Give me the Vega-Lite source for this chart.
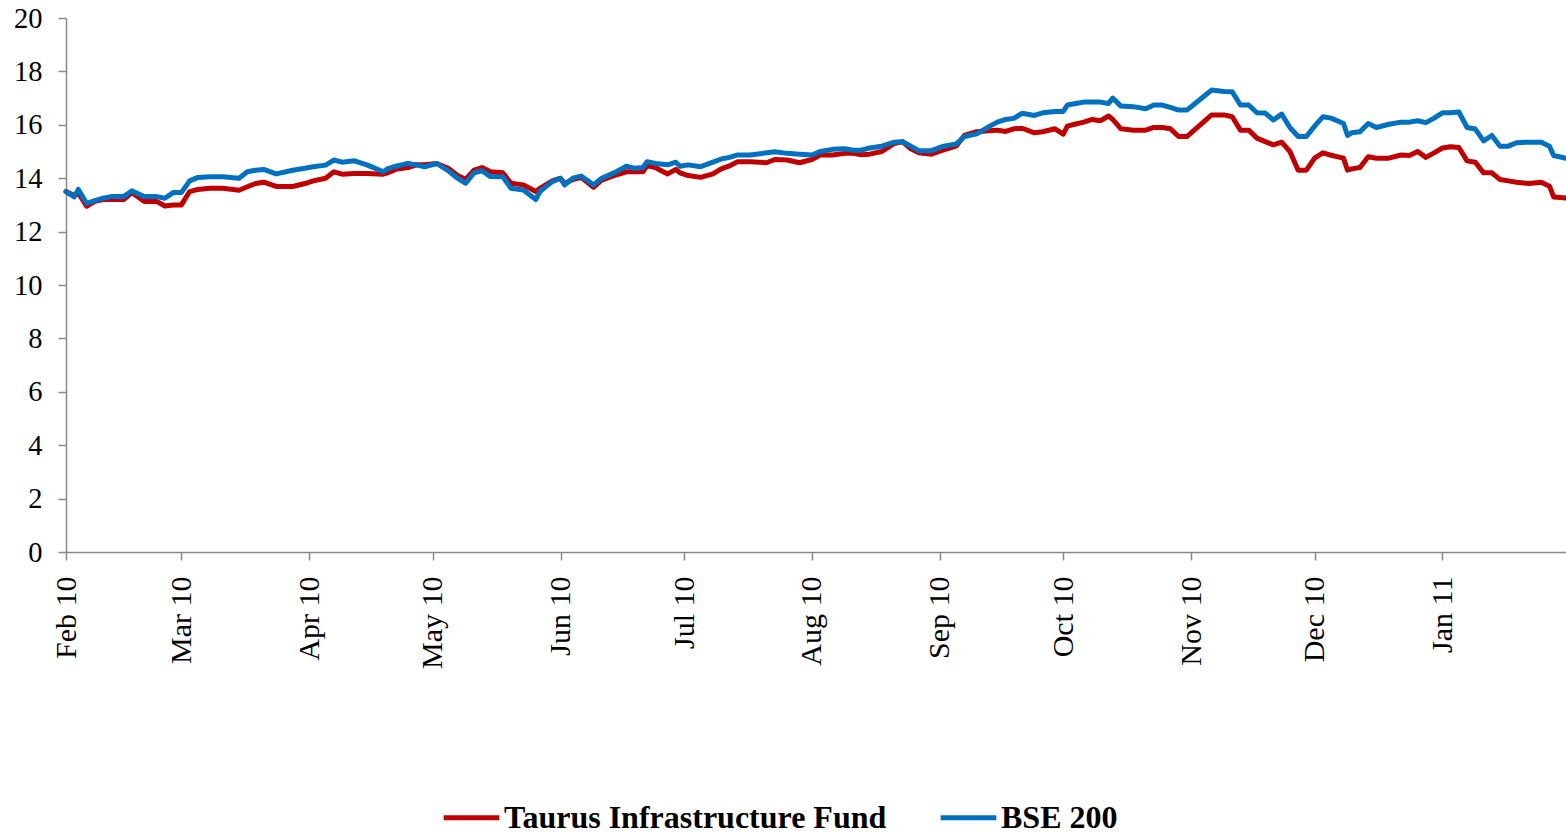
{
  "$schema": "https://vega.github.io/schema/vega-lite/v6.json",
  "autosize": {"type": "none"},
  "width": 1500,
  "height": 534,
  "padding": {"left": 66, "top": 18, "right": 0, "bottom": 283},
  "background": "white",
  "config": {
    "view": {"stroke": null},
    "font": "Liberation Serif"
  },
  "data": {"values": [
    {"d":"2010-02-01","T":13.5,"B":13.5},
    {"d":"2010-02-03","T":13.35,"B":13.3},
    {"d":"2010-02-04","T":13.45,"B":13.58},
    {"d":"2010-02-06","T":12.95,"B":13.06},
    {"d":"2010-02-08","T":13.13,"B":13.16},
    {"d":"2010-02-10","T":13.2,"B":13.25},
    {"d":"2010-02-12","T":13.2,"B":13.31},
    {"d":"2010-02-15","T":13.2,"B":13.31},
    {"d":"2010-02-17","T":13.46,"B":13.53},
    {"d":"2010-02-18","T":13.35,"B":13.45},
    {"d":"2010-02-20","T":13.13,"B":13.31},
    {"d":"2010-02-23","T":13.13,"B":13.31},
    {"d":"2010-02-25","T":12.96,"B":13.25},
    {"d":"2010-02-27","T":13.0,"B":13.46},
    {"d":"2010-03-01","T":13.0,"B":13.46},
    {"d":"2010-03-03","T":13.5,"B":13.9},
    {"d":"2010-03-05","T":13.58,"B":14.03},
    {"d":"2010-03-08","T":13.62,"B":14.05},
    {"d":"2010-03-11","T":13.62,"B":14.05},
    {"d":"2010-03-15","T":13.55,"B":14.0},
    {"d":"2010-03-17","T":13.68,"B":14.24},
    {"d":"2010-03-19","T":13.8,"B":14.3},
    {"d":"2010-03-21","T":13.85,"B":14.33},
    {"d":"2010-03-24","T":13.69,"B":14.16},
    {"d":"2010-03-28","T":13.69,"B":14.3},
    {"d":"2010-03-31","T":13.8,"B":14.37},
    {"d":"2010-04-02","T":13.9,"B":14.43},
    {"d":"2010-04-05","T":14.0,"B":14.49},
    {"d":"2010-04-07","T":14.24,"B":14.68},
    {"d":"2010-04-09","T":14.15,"B":14.6},
    {"d":"2010-04-12","T":14.18,"B":14.65},
    {"d":"2010-04-15","T":14.18,"B":14.5},
    {"d":"2010-04-19","T":14.15,"B":14.24},
    {"d":"2010-04-20","T":14.2,"B":14.35},
    {"d":"2010-04-22","T":14.33,"B":14.45},
    {"d":"2010-04-25","T":14.4,"B":14.55},
    {"d":"2010-04-27","T":14.5,"B":14.5},
    {"d":"2010-04-29","T":14.5,"B":14.43},
    {"d":"2010-05-02","T":14.55,"B":14.55},
    {"d":"2010-05-05","T":14.35,"B":14.25},
    {"d":"2010-05-07","T":14.1,"B":14.0},
    {"d":"2010-05-09","T":13.96,"B":13.81},
    {"d":"2010-05-11","T":14.3,"B":14.2},
    {"d":"2010-05-13","T":14.4,"B":14.28},
    {"d":"2010-05-15","T":14.24,"B":14.06},
    {"d":"2010-05-18","T":14.2,"B":14.05},
    {"d":"2010-05-20","T":13.81,"B":13.62},
    {"d":"2010-05-23","T":13.75,"B":13.56},
    {"d":"2010-05-26","T":13.5,"B":13.2},
    {"d":"2010-05-27","T":13.62,"B":13.5},
    {"d":"2010-05-30","T":13.9,"B":13.87},
    {"d":"2010-06-01","T":14.0,"B":14.0},
    {"d":"2010-06-02","T":13.8,"B":13.75},
    {"d":"2010-06-04","T":13.95,"B":14.0},
    {"d":"2010-06-06","T":14.03,"B":14.08},
    {"d":"2010-06-09","T":13.66,"B":13.75},
    {"d":"2010-06-11","T":13.93,"B":14.0},
    {"d":"2010-06-14","T":14.1,"B":14.2},
    {"d":"2010-06-17","T":14.24,"B":14.45},
    {"d":"2010-06-19","T":14.24,"B":14.37},
    {"d":"2010-06-21","T":14.24,"B":14.4},
    {"d":"2010-06-22","T":14.46,"B":14.62},
    {"d":"2010-06-24","T":14.4,"B":14.55},
    {"d":"2010-06-27","T":14.16,"B":14.5},
    {"d":"2010-06-29","T":14.33,"B":14.6},
    {"d":"2010-06-30","T":14.2,"B":14.45},
    {"d":"2010-07-02","T":14.1,"B":14.5},
    {"d":"2010-07-05","T":14.03,"B":14.43},
    {"d":"2010-07-08","T":14.16,"B":14.6},
    {"d":"2010-07-10","T":14.35,"B":14.72},
    {"d":"2010-07-12","T":14.46,"B":14.78},
    {"d":"2010-07-14","T":14.62,"B":14.87},
    {"d":"2010-07-17","T":14.62,"B":14.87},
    {"d":"2010-07-21","T":14.58,"B":14.95},
    {"d":"2010-07-23","T":14.7,"B":14.99},
    {"d":"2010-07-26","T":14.68,"B":14.93},
    {"d":"2010-07-29","T":14.58,"B":14.9},
    {"d":"2010-08-01","T":14.7,"B":14.87},
    {"d":"2010-08-03","T":14.87,"B":15.0},
    {"d":"2010-08-06","T":14.87,"B":15.08},
    {"d":"2010-08-09","T":14.93,"B":15.1},
    {"d":"2010-08-11","T":14.93,"B":15.05},
    {"d":"2010-08-13","T":14.88,"B":15.05},
    {"d":"2010-08-15","T":14.9,"B":15.13},
    {"d":"2010-08-18","T":15.0,"B":15.2},
    {"d":"2010-08-21","T":15.3,"B":15.35},
    {"d":"2010-08-23","T":15.37,"B":15.37},
    {"d":"2010-08-25","T":15.1,"B":15.2},
    {"d":"2010-08-27","T":14.95,"B":15.03},
    {"d":"2010-08-30","T":14.9,"B":15.03},
    {"d":"2010-09-02","T":15.06,"B":15.2},
    {"d":"2010-09-05","T":15.2,"B":15.28},
    {"d":"2010-09-07","T":15.6,"B":15.56},
    {"d":"2010-09-10","T":15.74,"B":15.66},
    {"d":"2010-09-13","T":15.78,"B":15.93},
    {"d":"2010-09-15","T":15.8,"B":16.1},
    {"d":"2010-09-17","T":15.75,"B":16.2},
    {"d":"2010-09-19","T":15.85,"B":16.24},
    {"d":"2010-09-21","T":15.87,"B":16.43},
    {"d":"2010-09-24","T":15.7,"B":16.35},
    {"d":"2010-09-26","T":15.74,"B":16.45},
    {"d":"2010-09-29","T":15.85,"B":16.5},
    {"d":"2010-10-01","T":15.65,"B":16.5},
    {"d":"2010-10-02","T":15.95,"B":16.74},
    {"d":"2010-10-04","T":16.03,"B":16.8},
    {"d":"2010-10-06","T":16.1,"B":16.85},
    {"d":"2010-10-08","T":16.2,"B":16.85},
    {"d":"2010-10-10","T":16.15,"B":16.85},
    {"d":"2010-10-12","T":16.33,"B":16.8},
    {"d":"2010-10-13","T":16.2,"B":17.0},
    {"d":"2010-10-15","T":15.85,"B":16.7},
    {"d":"2010-10-18","T":15.8,"B":16.68},
    {"d":"2010-10-21","T":15.8,"B":16.6},
    {"d":"2010-10-23","T":15.9,"B":16.74},
    {"d":"2010-10-25","T":15.9,"B":16.74},
    {"d":"2010-10-27","T":15.85,"B":16.65},
    {"d":"2010-10-29","T":15.56,"B":16.55},
    {"d":"2010-10-31","T":15.56,"B":16.55},
    {"d":"2010-11-02","T":15.83,"B":16.8},
    {"d":"2010-11-04","T":16.1,"B":17.05},
    {"d":"2010-11-06","T":16.37,"B":17.3},
    {"d":"2010-11-09","T":16.37,"B":17.25},
    {"d":"2010-11-11","T":16.3,"B":17.24},
    {"d":"2010-11-13","T":15.8,"B":16.74},
    {"d":"2010-11-15","T":15.8,"B":16.74},
    {"d":"2010-11-17","T":15.5,"B":16.45},
    {"d":"2010-11-19","T":15.37,"B":16.44},
    {"d":"2010-11-21","T":15.25,"B":16.18},
    {"d":"2010-11-23","T":15.35,"B":16.4},
    {"d":"2010-11-25","T":15.0,"B":15.9},
    {"d":"2010-11-27","T":14.3,"B":15.56},
    {"d":"2010-11-29","T":14.3,"B":15.56},
    {"d":"2010-12-01","T":14.75,"B":15.95},
    {"d":"2010-12-03","T":14.95,"B":16.3},
    {"d":"2010-12-05","T":14.86,"B":16.25},
    {"d":"2010-12-08","T":14.75,"B":16.05},
    {"d":"2010-12-09","T":14.3,"B":15.6},
    {"d":"2010-12-10","T":14.35,"B":15.7},
    {"d":"2010-12-12","T":14.4,"B":15.74},
    {"d":"2010-12-14","T":14.8,"B":16.05},
    {"d":"2010-12-16","T":14.75,"B":15.9},
    {"d":"2010-12-19","T":14.75,"B":16.02},
    {"d":"2010-12-22","T":14.87,"B":16.1},
    {"d":"2010-12-24","T":14.85,"B":16.1},
    {"d":"2010-12-26","T":15.0,"B":16.15},
    {"d":"2010-12-28","T":14.78,"B":16.08},
    {"d":"2010-12-30","T":14.95,"B":16.25},
    {"d":"2011-01-01","T":15.13,"B":16.45},
    {"d":"2011-01-03","T":15.18,"B":16.45},
    {"d":"2011-01-05","T":15.15,"B":16.48},
    {"d":"2011-01-07","T":14.65,"B":15.9},
    {"d":"2011-01-09","T":14.6,"B":15.84},
    {"d":"2011-01-11","T":14.2,"B":15.4},
    {"d":"2011-01-13","T":14.2,"B":15.6},
    {"d":"2011-01-15","T":13.95,"B":15.2},
    {"d":"2011-01-17","T":13.9,"B":15.2},
    {"d":"2011-01-19","T":13.85,"B":15.33},
    {"d":"2011-01-22","T":13.8,"B":15.35},
    {"d":"2011-01-25","T":13.85,"B":15.35},
    {"d":"2011-01-27","T":13.7,"B":15.2},
    {"d":"2011-01-28","T":13.3,"B":14.85},
    {"d":"2011-01-31","T":13.26,"B":14.74}
  ]},
  "transform": [
    {"fold": ["T", "B"], "as": ["series", "value"]}
  ],
  "mark": {"type": "line", "strokeWidth": 5, "strokeJoin": "round", "strokeCap": "round"},
  "encoding": {
    "x": {
      "field": "d",
      "type": "temporal",
      "scale": {"type": "utc", "domain": [{"year": 2010, "month": 2, "date": 1, "utc": true}, {"year": 2011, "month": 1, "date": 31, "utc": true}], "nice": false},
      "axis": {
        "title": null,
        "format": "%b %y",
        "values": [
          {"year": 2010, "month": 2, "date": 1, "utc": true},
          {"year": 2010, "month": 3, "date": 1, "utc": true},
          {"year": 2010, "month": 4, "date": 1, "utc": true},
          {"year": 2010, "month": 5, "date": 1, "utc": true},
          {"year": 2010, "month": 6, "date": 1, "utc": true},
          {"year": 2010, "month": 7, "date": 1, "utc": true},
          {"year": 2010, "month": 8, "date": 1, "utc": true},
          {"year": 2010, "month": 9, "date": 1, "utc": true},
          {"year": 2010, "month": 10, "date": 1, "utc": true},
          {"year": 2010, "month": 11, "date": 1, "utc": true},
          {"year": 2010, "month": 12, "date": 1, "utc": true},
          {"year": 2011, "month": 1, "date": 1, "utc": true}
        ],
        "labelAngle": -90,
        "labelFont": "Liberation Serif",
        "labelFontSize": 30,
        "labelColor": "#000000",
        "labelPadding": 16,
        "tickSize": 8,
        "tickColor": "#898989",
        "tickWidth": 1.5,
        "domainColor": "#898989",
        "domainWidth": 1.5,
        "grid": false,
        "labelOverlap": false,
        "labelFlush": false
      }
    },
    "y": {
      "field": "value",
      "type": "quantitative",
      "scale": {"domain": [0, 20], "nice": false, "zero": true},
      "axis": {
        "title": null,
        "values": [0, 2, 4, 6, 8, 10, 12, 14, 16, 18, 20],
        "labelFont": "Liberation Serif",
        "labelFontSize": 28.5,
        "labelColor": "#000000",
        "labelPadding": 16,
        "tickSize": 8,
        "tickColor": "#898989",
        "tickWidth": 1.5,
        "domainColor": "#898989",
        "domainWidth": 1.5,
        "grid": false
      }
    },
    "color": {
      "field": "series",
      "type": "nominal",
      "scale": {"domain": ["T", "B"], "range": ["#C00000", "#0070C0"]},
      "legend": {
        "title": null,
        "orient": "none",
        "direction": "horizontal",
        "legendX": 375,
        "legendY": 769,
        "symbolType": "stroke",
        "symbolSize": 3100,
        "symbolStrokeWidth": 5,
        "labelExpr": "datum.label == 'T' ? 'Taurus Infrastructure Fund' : 'BSE 200'",
        "labelFont": "Liberation Serif",
        "labelFontWeight": "bold",
        "labelFontSize": 32,
        "labelColor": "#000000",
        "labelOffset": 2,
        "columnPadding": 43,
        "labelLimit": 600
      }
    }
  }
}
